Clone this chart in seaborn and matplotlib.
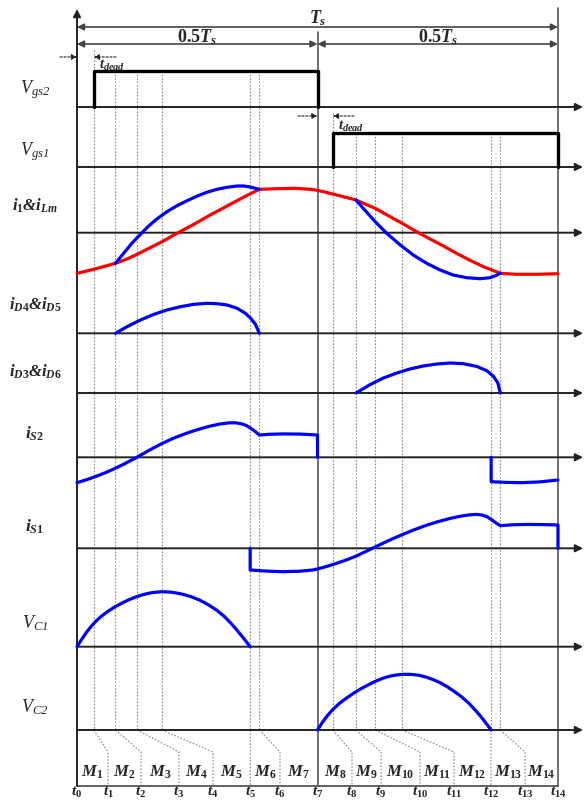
import numpy as np
import pandas as pd
import matplotlib
matplotlib.use('Agg')
import matplotlib.pyplot as plt
import seaborn as sns

sns.set_style('white')
plt.rcParams['font.family'] = ['Liberation Serif', 'DejaVu Serif']
plt.rcParams['mathtext.fontset'] = 'custom'
plt.rcParams['mathtext.it'] = 'Liberation Serif:italic:bold'
plt.rcParams['mathtext.rm'] = 'Liberation Serif:bold'
plt.rcParams['mathtext.bf'] = 'Liberation Serif:bold'
plt.rcParams['mathtext.sf'] = 'Liberation Serif:italic'

# ---------------- data (time in % of Ts, amplitudes in arbitrary units) -------------
t_events = [0, 3.5, 8.0, 12.5, 17.7, 36.0, 37.9, 50, 53.2, 58.0, 62.0, 67.6, 86.1, 88.0, 100]
t_names = [r'$\mathit{t_{%d}}$' % k for k in range(15)]
m_names = [r'$\mathit{M_{%d}}$' % k for k in range(1, 15)]

vgs2_t = [3.5, 3.5, 50, 50]
vgs2_v = [0, 36, 36, 0]
vgs1_t = [53.2, 53.2, 100, 100]
vgs1_v = [0, 34, 34, 0]

ilm_t = [0, 3.5, 8.0, 10.4, 12.5, 15.2, 17.7, 20.8, 24.3, 27.7, 31.2, 34.7, 37.9, 41.6, 45.1,
         48.5, 50.0, 53.2, 58.0, 62.0, 65.1, 67.6, 70.6, 73.4, 76.2, 78.9, 81.7, 84.5, 88.0,
         91.4, 95.6, 100]
ilm_v = [-40.6, -36.6, -30.6, -26.3, -21.6, -15.0, -9.0, -0.6, 8.4, 17.7, 26.7, 35.7, 43.4,
         44.0, 44.4, 43.4, 42.4, 38.7, 32.7, 24.4, 16.0, 9.4, 1.0, -6.3, -13.3, -20.6, -27.6,
         -34.0, -40.6, -41.6, -41.6, -41.0]

il_a_t = [8.0, 9.7, 11.4, 13.2, 14.9, 16.6, 18.7, 20.8, 22.9, 25.0, 27.0, 29.1, 31.2, 33.3,
          34.7, 36.0, 37.1, 37.9]
il_a_v = [-30.6, -20.6, -10.6, -1.6, 6.7, 13.7, 21.0, 27.0, 32.0, 36.7, 40.4, 43.4, 45.4,
          46.7, 46.7, 45.7, 44.4, 43.4]
il_b_t = [58.0, 59.5, 62.0, 64.4, 67.2, 69.9, 72.7, 75.5, 78.2, 81.0, 83.8, 85.9, 87.3, 88.0]
il_b_v = [32.7, 24.4, 11.0, -0.6, -12.3, -22.3, -30.6, -37.3, -42.3, -45.0, -46.0, -45.0,
          -42.3, -40.6]

id45_t = [8.0, 10.4, 13.2, 16.0, 18.7, 21.5, 24.3, 27.0, 29.1, 31.2, 33.3, 35.0, 36.0, 37.1, 37.9]
id45_v = [0, 6.6, 13.3, 19.0, 23.3, 26.6, 29.0, 30.0, 29.6, 28.3, 25.0, 20.0, 15.6, 9.0, 0]

id36_t = [58.0, 60.9, 63.7, 66.5, 69.2, 72.0, 74.8, 77.6, 80.3, 83.1, 85.2, 86.6, 87.5, 88.0]
id36_v = [0, 8.3, 15.0, 20.0, 24.0, 27.0, 29.0, 30.0, 29.3, 26.6, 22.3, 16.6, 10.0, 0]

is2_a_t = [0, 2, 4, 6, 8, 10, 12.5, 15, 17.5, 20, 22.5, 25, 27.5, 29.5, 31.5, 33, 34.3, 35.3,
           36.2, 37.1, 37.9, 40, 43, 46.5, 50, 50]
is2_a_v = [-25.4, -22.4, -19.0, -15.2, -10.9, -6.2, 0.2, 7.0, 13.4, 19.0, 23.6, 27.6, 31.0,
           33.1, 34.4, 34.5, 33.4, 31.6, 28.8, 25.6, 22.3, 23.0, 23.4, 23.2, 22.3, 0]
is2_b_t = [86.1, 86.1, 89.2, 92.3, 96.2, 100]
is2_b_v = [0, -24.4, -25.1, -25.4, -24.6, -22.7]

is1_t = [36.0, 36.0, 39.5, 42.8, 46.4, 49.0, 50.0, 52, 54, 56, 58, 60, 61.5, 63.5, 65.5, 67.6,
         70, 72.5, 75, 77.5, 79.5, 81.5, 83, 84.3, 85.3, 86.2, 87.1, 88.0, 90.5, 93.5, 97,
         100, 100]
is1_v = [0, -21.7, -22.8, -23.4, -22.9, -21.7, -20.7, -18.0, -15.0, -11.6, -7.9, -3.3, 0.2,
         4.8, 9.3, 13.6, 18.4, 22.8, 26.6, 29.8, 31.9, 33.4, 33.9, 33.2, 31.4, 28.6, 25.4,
         22.6, 23.5, 23.9, 23.7, 23.3, 0]

vc1_t = [0, 1, 2, 3, 4, 5, 6.5, 8, 9.5, 11, 12.5, 14, 15.5, 17.5, 19.5, 21.5, 23.5, 25.5,
         27.4, 29, 30.5, 32, 33, 34, 35, 36]
vc1_v = [0, 7.6, 14.6, 20.6, 25.8, 30.2, 35.6, 40.2, 44.0, 47.4, 50.2, 52.4, 54.0, 55.0,
         54.6, 53.0, 50.4, 46.6, 41.7, 36.6, 30.8, 23.4, 18.0, 12.2, 6.2, 0]

vc2_t = [50, 51, 52, 53, 54.5, 56, 57.5, 59, 60.5, 62, 63.5, 65, 66.5, 67.8, 69.5, 71, 72.5,
         74, 75.5, 77, 78.5, 80, 81.5, 83, 84, 85, 86.1]
vc2_v = [0, 7.5, 14.0, 19.6, 26.4, 31.8, 36.8, 41.2, 45.0, 48.6, 51.6, 53.8, 55.1, 55.7,
         55.6, 54.8, 53.0, 50.5, 47.3, 43.2, 38.3, 33.0, 26.6, 18.8, 13.2, 7.0, 0]

row_labels = [r'$\mathsf{V_{gs2}}$', r'$\mathsf{V_{gs1}}$', r'$\mathit{i_{1}}$&$\mathit{i_{Lm}}$',
              r'$\mathit{i_{D4}}$&$\mathit{i_{D5}}$', r'$\mathit{i_{D3}}$&$\mathit{i_{D6}}$',
              r'$\mathit{i_{S2}}$', r'$\mathit{i_{S1}}$', r'$\mathsf{V_{C1}}$', r'$\mathsf{V_{C2}}$']

# ---------------- layout ----------------
W, H = 584, 801
T0_PX, PX_PER_T = 77.0, 4.81


def tx(px):
    return (px - T0_PX) / PX_PER_T


row_base = [107, 167, 232.7, 333.3, 393.0, 457.3, 548.3, 646.7, 730]
row_label_y = [90, 152, 206, 305, 372, 434, 527, 623, 707]
row_label_fs = [13, 13, 12, 12, 12, 12.5, 12.5, 13, 13]
BOX_BOTTOM = 786
SLANT_Y = 752
label_pos = [tx(p) for p in [77, 108, 141, 179, 213, 250.3, 280, 317.5, 352, 381, 420, 454, 491, 525, 558]]
dash_top = [None, 50, 71, 71, 71, 71, 71, None, 113, 133, 133, 133, 133, 133, None]

fig = plt.figure(figsize=(W / 100, H / 100), dpi=100)
ax = fig.add_axes([0, 0, 1, 1])

BLUE = '#0000FF'
RED = '#FF0000'


def wave(tt, vv, row, color, lw=2.3, z=5):
    df = pd.DataFrame({'t': tt, 'y': row_base[row] - np.asarray(vv, dtype=float)})
    sns.lineplot(data=df, x='t', y='y', sort=False, estimator=None, color=color,
                 lw=lw, ax=ax, zorder=z)


def arrow(x0, y0, x1, y1, style='-|>', color='#222222', lw=1.3, ms=11, ls='-', z=3):
    ax.annotate('', xy=(x1, y1), xytext=(x0, y0),
                arrowprops=dict(arrowstyle=style, color=color, lw=lw, mutation_scale=ms,
                                shrinkA=0, shrinkB=0, linestyle=ls), zorder=z)


# dashed event lines
for i, te in enumerate(t_events):
    if dash_top[i] is None:
        continue
    kw = dict(color='#8a8a8a', lw=0.8, ls=(0, (1.5, 1.5)), zorder=1)
    ax.plot([te, te], [dash_top[i], row_base[-1]], **kw)
    ax.plot([te, label_pos[i], label_pos[i]], [row_base[-1], SLANT_Y, BOX_BOTTOM], **kw)

# solid verticals at t7 and t14, box bottom
ax.plot([50, 50], [32, BOX_BOTTOM], color='#666666', lw=1.3, zorder=2)
ax.plot([100, 100], [8, BOX_BOTTOM], color='#666666', lw=1.3, zorder=2)
ax.plot([0, 100], [BOX_BOTTOM, BOX_BOTTOM], color='#555555', lw=1.3, zorder=2)

# axes
arrow(0, BOX_BOTTOM, 0, 9, color='#222222', lw=1.4)
for yb in row_base:
    arrow(0, yb, tx(583), yb, color='#222222', lw=1.4)

# period arrows
arrow(0, 27, 100, 27, style='<|-|>', color='#444444', lw=1.2, ms=10)
arrow(0, 44, 50, 44, style='<|-|>', color='#444444', lw=1.2, ms=10)
arrow(50, 44, 100, 44, style='<|-|>', color='#444444', lw=1.2, ms=10)
ax.text(50, 18, r'$\mathit{T_{s}}$', ha='center', va='center', fontsize=13)
ax.text(25, 37, r'$\mathit{0.5T_{s}}$', ha='center', va='center', fontsize=13)
ax.text(75, 37, r'$\mathit{0.5T_{s}}$', ha='center', va='center', fontsize=13)

# dead-time markers
arrow(tx(60), 57, 0, 57, color='#222222', lw=0.8, ms=8, ls=(0, (2, 1.5)))
arrow(tx(116), 57, t_events[1], 57, color='#222222', lw=0.8, ms=8, ls=(0, (2, 1.5)))
ax.text(tx(99), 65, r'$\mathit{t_{dead}}$', ha='left', va='center', fontsize=10.5)
arrow(tx(298), 116, 50, 116, color='#222222', lw=0.8, ms=8, ls=(0, (2, 1.5)))
arrow(tx(354), 116, t_events[8], 116, color='#222222', lw=0.8, ms=8, ls=(0, (2, 1.5)))
ax.text(tx(338), 126, r'$\mathit{t_{dead}}$', ha='left', va='center', fontsize=10.5)

# waveforms
wave(vgs2_t, vgs2_v, 0, 'black', lw=2.4)
wave(vgs1_t, vgs1_v, 1, 'black', lw=2.4)
wave(ilm_t, ilm_v, 2, RED, z=5)
wave(il_a_t, il_a_v, 2, BLUE, z=6)
wave(il_b_t, il_b_v, 2, BLUE, z=6)
wave(id45_t, id45_v, 3, BLUE)
wave(id36_t, id36_v, 4, BLUE)
wave(is2_a_t, is2_a_v, 5, BLUE)
wave(is2_b_t, is2_b_v, 5, BLUE)
wave(is1_t, is1_v, 6, BLUE)
wave(vc1_t, vc1_v, 7, BLUE)
wave(vc2_t, vc2_v, 8, BLUE)

# row labels
for lab, ly, fs in zip(row_labels, row_label_y, row_label_fs):
    ax.text(tx(35), ly, lab, ha='center', va='center', fontsize=fs,
            fontweight='bold', fontstyle='italic')

# interval and time labels
for k in range(14):
    ax.text((label_pos[k] + label_pos[k + 1]) / 2, 772, m_names[k], ha='center',
            va='center', fontsize=12)
for k in range(15):
    ax.text(label_pos[k], 792, t_names[k], ha='center', va='center', fontsize=11)

ax.set_xlim(tx(0), tx(W))
ax.set_ylim(H, 0)
ax.axis('off')
fig.savefig('out.png', dpi=100)
